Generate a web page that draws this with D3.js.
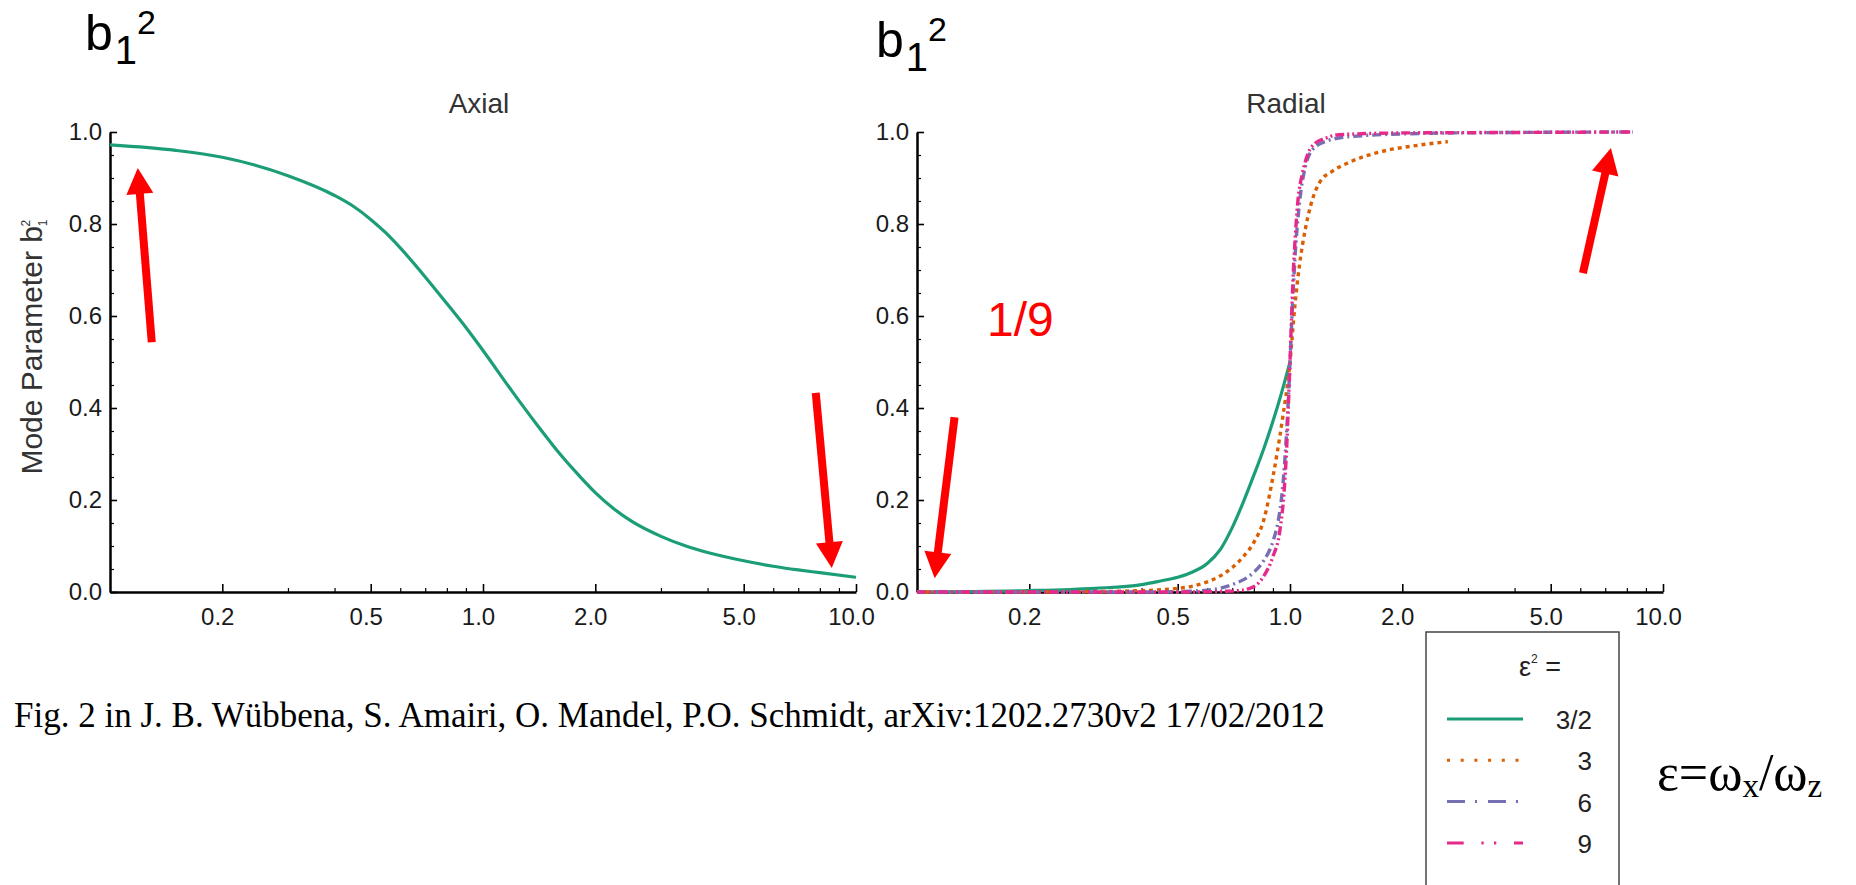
<!DOCTYPE html>
<html>
<head>
<meta charset="utf-8">
<script src="https://cdn.jsdelivr.net/npm/d3@7"></script>
<style>
  html, body { margin: 0; padding: 0; background: #fff; }
  svg { display: block; }
  .axis .tick text { font-family: "Liberation Sans", Arial, sans-serif; font-size: 24px; fill: #1a1a1a; }
  .axis path { stroke: #000; stroke-width: 2.5; }
  .axis line { stroke: #000; stroke-width: 1.6; }
  .minor line { stroke: #000; stroke-width: 1.2; }
  .panel-title { font-family: "Liberation Sans", Arial, sans-serif; font-size: 28px; fill: #333; }
  .big-label { font-family: "Liberation Sans", Arial, sans-serif; fill: #000; }
  .serif { font-family: "Liberation Serif", "Times New Roman", serif; fill: #000; }
</style>
</head>
<body>
<div id="chart"></div>
<script>
// ---- axis ticks ----
const xMajorTicks = [0.2, 0.5, 1, 2, 5, 10];
const xMinorTicks = [0.3, 0.4, 0.6, 0.7, 0.8, 0.9, 3, 4, 6, 7, 8, 9];
const yMajorTicks = [0, 0.2, 0.4, 0.6, 0.8, 1.0];
const yMinorTicks = [0.05, 0.1, 0.15, 0.25, 0.3, 0.35, 0.45, 0.5, 0.55, 0.65, 0.7, 0.75, 0.85, 0.9, 0.95];

// ---- axial panel ----
const axialX = [0.1, 0.15, 0.2, 0.3, 0.4, 0.45, 0.5, 0.55, 0.6, 0.7, 0.8, 0.9, 1.0, 1.2, 1.4, 1.6, 1.8, 2.0, 2.25, 2.5, 3, 3.5, 4, 5, 6, 7, 8, 10];
const axialB = [0.972, 0.960, 0.945, 0.905, 0.862, 0.838, 0.810, 0.780, 0.748, 0.685, 0.627, 0.575, 0.525, 0.435, 0.362, 0.302, 0.255, 0.216, 0.180, 0.154, 0.121, 0.100, 0.086, 0.068, 0.056, 0.048, 0.042, 0.032];

// ---- radial panel, one curve per eps^2 ----
const epsLabels = ['3/2', '3', '6', '9'];
const radialX_15 = [0.1, 0.2, 0.3, 0.4, 0.45, 0.5, 0.55, 0.6, 0.65, 0.7, 0.75, 0.8, 0.85, 0.9, 0.95, 1.0];
const radialB_15 = [0.0, 0.003, 0.008, 0.016, 0.024, 0.032, 0.044, 0.062, 0.092, 0.140, 0.196, 0.254, 0.311, 0.371, 0.434, 0.500];
const radialX_3 = [0.1, 0.3, 0.4, 0.5, 0.55, 0.6, 0.65, 0.7, 0.75, 0.8, 0.85, 0.9, 0.95, 1.0, 1.03, 1.06, 1.1, 1.15, 1.2, 1.3, 1.45, 1.75, 2.2, 2.65];
const radialB_3 = [0.0, 0.001, 0.003, 0.008, 0.013, 0.022, 0.035, 0.053, 0.077, 0.108, 0.156, 0.250, 0.365, 0.500, 0.620, 0.710, 0.790, 0.855, 0.890, 0.915, 0.935, 0.957, 0.971, 0.979];
const radialX_6 = [0.1, 0.4, 0.5, 0.6, 0.7, 0.8, 0.85, 0.9, 0.93, 0.95, 0.97, 0.985, 1.0, 1.015, 1.03, 1.06, 1.1, 1.15, 1.25, 1.45, 2.3, 4, 8.3];
const radialB_6 = [0.0, 0.0, 0.001, 0.004, 0.016, 0.043, 0.068, 0.110, 0.155, 0.207, 0.294, 0.385, 0.500, 0.620, 0.720, 0.845, 0.925, 0.962, 0.980, 0.990, 0.997, 0.999, 1.0];
const radialX_9 = [0.1, 0.5, 0.7, 0.78, 0.85, 0.9, 0.94, 0.965, 0.98, 0.99, 1.0, 1.01, 1.02, 1.03, 1.05, 1.08, 1.12, 1.17, 1.25, 1.35, 2, 4, 8.3];
const radialB_9 = [0.0, 0.0, 0.002, 0.008, 0.034, 0.077, 0.135, 0.222, 0.316, 0.405, 0.500, 0.600, 0.690, 0.755, 0.850, 0.910, 0.955, 0.976, 0.987, 0.994, 0.998, 0.999, 1.0];

// red annotation arrows, in data units (tail -> tip)
const axialArrows = [
    { x0: 0.1294, v0: 0.543, x1: 0.1187, v1: 0.922 },
    { x0: 7.80, v0: 0.433, x1: 8.61, v1: 0.052 }
];
const radialArrows = [
    { x0: 0.1261, v0: 0.380, x1: 0.1115, v1: 0.030 },
    { x0: 6.10, v0: 0.693, x1: 7.25, v1: 0.965 }
];

const seriesColors = d3.schemeDark2.slice(0, 4);
const chartDash = [null, '4,4', '9,4,2,4', '9,3,2,3,2,3'];
const legendDash = [null, '3,10.7', '18,10,2,11', '16.7,17.7,2.3,10.3,2.3,17.7'];

const zip = (xs, vs) => xs.map((x, i) => ({ x: x, v: vs[i] }));

class ModePanel {
    constructor(config, series, arrows) {
        this.config = {
            svg: config.svg,
            left: config.left,
            right: config.right,
            top: config.top,
            bottom: config.bottom,
            title: config.title
        };
        this.series = series;
        this.arrows = arrows;
        this.initVis();
    }

    initVis() {
        let vis = this;
        const c = vis.config;

        vis.xScale = d3.scaleLog().domain([0.1, 10]).range([c.left, c.right]);
        vis.yScale = d3.scaleLinear().domain([0, 1]).range([c.bottom, c.top]);

        vis.chart = c.svg.append('g');

        // minor ticks
        vis.chart.append('g')
            .attr('class', 'minor')
            .attr('transform', `translate(0,${c.bottom})`)
            .call(d3.axisBottom(vis.xScale).tickValues(xMinorTicks).tickSize(-4).tickFormat(''))
            .call(g => g.select('.domain').remove());

        vis.chart.append('g')
            .attr('class', 'minor')
            .attr('transform', `translate(${c.left},0)`)
            .call(d3.axisLeft(vis.yScale).tickValues(yMinorTicks).tickSize(-4).tickFormat(''))
            .call(g => g.select('.domain').remove());

        // major axes
        vis.chart.append('g')
            .attr('class', 'axis x-axis')
            .attr('transform', `translate(0,${c.bottom})`)
            .call(d3.axisBottom(vis.xScale)
                .tickValues(xMajorTicks)
                .tickFormat(d3.format('.1f'))
                .tickSize(-8)
                .tickSizeOuter(0)
                .tickPadding(16))
            .call(g => g.selectAll('.tick text').attr('dx', -5));

        vis.chart.append('g')
            .attr('class', 'axis y-axis')
            .attr('transform', `translate(${c.left},0)`)
            .call(d3.axisLeft(vis.yScale)
                .tickValues(yMajorTicks)
                .tickFormat(d3.format('.1f'))
                .tickSize(-7)
                .tickSizeOuter(0)
                .tickPadding(8));

        vis.chart.append('text')
            .attr('class', 'panel-title')
            .attr('x', (c.left + c.right) / 2 - 4)
            .attr('y', 113)
            .attr('text-anchor', 'middle')
            .text(c.title);

        vis.line = d3.line()
            .x(d => vis.xScale(d.x))
            .y(d => vis.yScale(d.v))
            .curve(d3.curveMonotoneX);

        vis.chart.selectAll('.curve')
            .data(vis.series)
            .join('path')
            .attr('class', 'curve')
            .attr('d', d => vis.line(d.points))
            .attr('fill', 'none')
            .attr('stroke', d => seriesColors[d.index])
            .attr('stroke-width', d => d.index === 0 ? 3.2 : 3.4)
            .attr('stroke-dasharray', d => chartDash[d.index]);

        vis.drawArrows();
    }

    drawArrows() {
        let vis = this;
        const headLen = 26, headHalf = 13.5;

        vis.arrows.forEach(a => {
            const px0 = vis.xScale(a.x0), py0 = vis.yScale(a.v0);
            const px1 = vis.xScale(a.x1), py1 = vis.yScale(a.v1);
            const len = Math.hypot(px1 - px0, py1 - py0);
            const ux = (px1 - px0) / len, uy = (py1 - py0) / len;
            const bx = px1 - ux * headLen, by = py1 - uy * headLen;

            vis.chart.append('line')
                .attr('x1', px0).attr('y1', py0)
                .attr('x2', bx + ux * 2).attr('y2', by + uy * 2)
                .attr('stroke', '#ff0000')
                .attr('stroke-width', 8);

            vis.chart.append('polygon')
                .attr('points', [
                    [px1, py1],
                    [bx - uy * headHalf, by + ux * headHalf],
                    [bx + uy * headHalf, by - ux * headHalf]
                ].map(p => p.join(',')).join(' '))
                .attr('fill', '#ff0000');
        });
    }
}

const svg = d3.select('#chart').append('svg')
    .attr('width', 1856)
    .attr('height', 885);

const axial = new ModePanel(
    { svg: svg, left: 110, right: 856, top: 132, bottom: 592, title: 'Axial' },
    [{ index: 0, points: zip(axialX, axialB) }],
    axialArrows
);

const radial = new ModePanel(
    { svg: svg, left: 917, right: 1663, top: 132, bottom: 592, title: 'Radial' },
    [
        { index: 0, points: zip(radialX_15, radialB_15) },
        { index: 1, points: zip(radialX_3, radialB_3) },
        { index: 2, points: zip(radialX_6, radialB_6) },
        { index: 3, points: zip(radialX_9, radialB_9) }
    ],
    radialArrows
);

// y axis title (left panel only)
const yTitle = svg.append('text')
    .attr('transform', 'translate(42,347) rotate(-90)')
    .attr('text-anchor', 'middle')
    .style('font-family', '"Liberation Sans", Arial, sans-serif')
    .style('font-size', '30px')
    .style('fill', '#333');
yTitle.append('tspan').text('Mode Parameter b');
yTitle.append('tspan').attr('dy', 5).style('font-size', '12px').text('1');
yTitle.append('tspan').attr('dx', -7).attr('dy', -17).style('font-size', '12px').text('2');

// big b1^2 labels above the panels
function bigLabel(x, y) {
    const t = svg.append('text').attr('class', 'big-label').attr('x', x).attr('y', y);
    t.append('tspan').style('font-size', '50px').text('b');
    t.append('tspan').attr('dx', 2).attr('dy', 14).style('font-size', '40px').text('1');
    t.append('tspan').attr('dx', 0).attr('dy', -30).style('font-size', '34px').text('2');
}
bigLabel(85, 50);
bigLabel(876, 57);

// red 1/9 note
svg.append('text')
    .attr('x', 987)
    .attr('y', 336)
    .style('font-family', '"Liberation Sans", Arial, sans-serif')
    .style('font-size', '48px')
    .style('fill', '#ff0000')
    .text('1/9');

// caption
svg.append('text')
    .attr('class', 'serif')
    .attr('x', 14)
    .attr('y', 727)
    .style('font-size', '35px')
    .text('Fig. 2 in J. B. Wübbena, S. Amairi, O. Mandel, P.O. Schmidt, arXiv:1202.2730v2 17/02/2012');

// legend
const legend = svg.append('g');
legend.append('rect')
    .attr('x', 1426).attr('y', 632)
    .attr('width', 193).attr('height', 300)
    .attr('fill', 'none')
    .attr('stroke', '#444')
    .attr('stroke-width', 1.5);

const legHead = legend.append('text')
    .attr('x', 1519).attr('y', 676)
    .style('font-family', '"Liberation Sans", Arial, sans-serif')
    .style('font-size', '27px')
    .style('fill', '#222');
legHead.append('tspan').text('ε');
legHead.append('tspan').attr('dy', -13).style('font-size', '12px').text('2');
legHead.append('tspan').attr('dy', 13).text(' =');

const legRows = legend.selectAll('.leg-row')
    .data(epsLabels)
    .join('g')
    .attr('class', 'leg-row')
    .attr('transform', (d, i) => `translate(0,${719 + i * 41.3})`);

legRows.append('line')
    .attr('x1', 1447).attr('x2', 1523)
    .attr('stroke', (d, i) => seriesColors[i])
    .attr('stroke-width', (d, i) => i === 0 ? 3.2 : 3)
    .attr('stroke-dasharray', (d, i) => legendDash[i]);

legRows.append('text')
    .attr('x', 1592).attr('y', 10)
    .attr('text-anchor', 'end')
    .style('font-family', '"Liberation Sans", Arial, sans-serif')
    .style('font-size', '26px')
    .style('fill', '#222')
    .text(d => d);

// epsilon definition
const epsDef = svg.append('text')
    .attr('class', 'serif')
    .attr('x', 1657).attr('y', 790)
    .style('font-size', '52px');
epsDef.append('tspan').text('ε=ω');
epsDef.append('tspan').attr('dy', 7).style('font-size', '33px').text('x');
epsDef.append('tspan').attr('dy', -7).text('/ω');
epsDef.append('tspan').attr('dy', 7).style('font-size', '33px').text('z');
</script>
</body>
</html>
